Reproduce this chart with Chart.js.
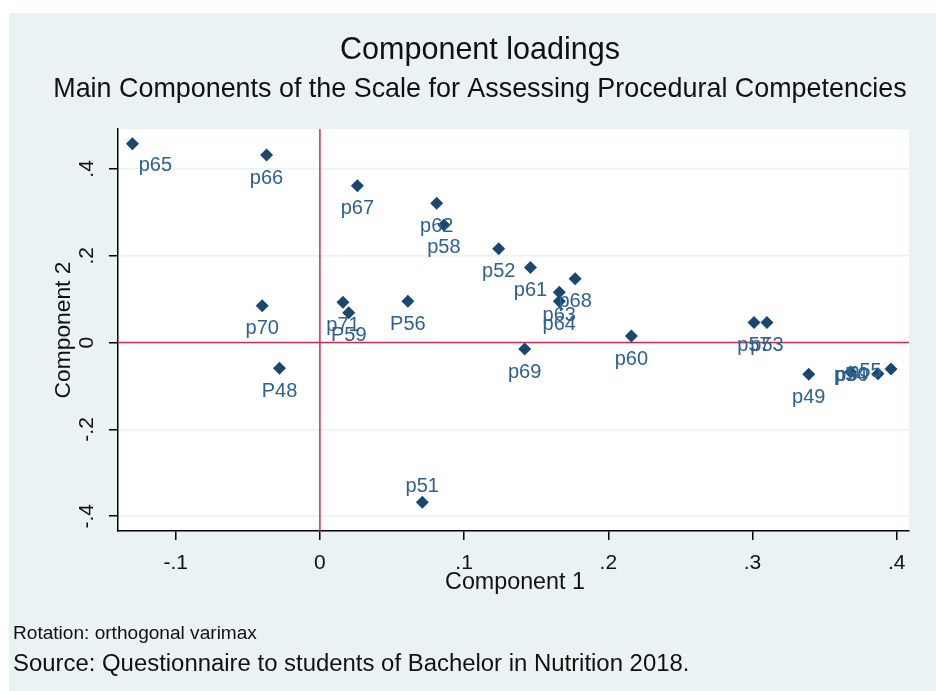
<!DOCTYPE html>
<html>
<head>
<meta charset="utf-8">
<title>Component loadings</title>
<script src="https://cdn.jsdelivr.net/npm/chart.js@4.4.1/dist/chart.umd.min.js"></script>
<style>
  html, body { margin: 0; padding: 0; background: #fff; }
  #wrap { width: 936px; height: 691px; }
</style>
</head>
<body>
<div id="wrap"><canvas id="chart"></canvas></div>
<script>
// loadings
const items = ["p65", "p66", "p67", "p62", "p58", "p52", "p61", "p68", "p63", "p64", "p71", "P59",
  "P56", "p70", "P48", "p51", "p69", "p60", "p57", "p53", "p49", "p54", "p50", "p55"];
const comp1 = [-0.130, -0.037, 0.026, 0.081, 0.086, 0.124, 0.146, 0.177, 0.166, 0.166, 0.016, 0.020,
  0.061, -0.040, -0.028, 0.071, 0.142, 0.216, 0.301, 0.310, 0.339, 0.368, 0.387, 0.396];
const comp2 = [0.458, 0.432, 0.361, 0.321, 0.271, 0.216, 0.173, 0.147, 0.116, 0.095, 0.093, 0.069,
  0.095, 0.085, -0.059, -0.368, -0.015, 0.015, 0.046, 0.046, -0.073, -0.068, -0.072, -0.061];

const xTicks = [-0.1, 0, 0.1, 0.2, 0.3, 0.4];
const xTickLabels = ["-.1", "0", ".1", ".2", ".3", ".4"];
const yTicks = [-0.4, -0.2, 0, 0.2, 0.4];
const yTickLabels = ["-.4", "-.2", "0", ".2", ".4"];

const FONT = '"Liberation Sans", Arial, sans-serif';
const NAVY = "#1a476f";

// marker label placement (clock position), default 6 = below
const labelClock = { p65: 5, p51: 12, p50: 9, p55: 9, p54: 0 };
const clockOffset = { 6: [0, 23], 12: [0, -16], 5: [23, 22], 9: [-26, 2], 0: [0, 3] };

function fitSize(ctx, text, width) {
  ctx.font = "100px " + FONT;
  return 100 * width / ctx.measureText(text).width;
}

function text(ctx, str, x, y, size, align, rot) {
  ctx.save();
  ctx.font = size + "px " + FONT;
  ctx.textAlign = align || "center";
  ctx.textBaseline = "alphabetic";
  ctx.translate(x, y);
  if (rot) ctx.rotate(rot);
  ctx.fillText(str, 0, 0);
  ctx.restore();
}

const backdrop = {
  id: "backdrop",
  beforeDraw(chart) {
    const { ctx, width, height, chartArea: a } = chart;
    ctx.save();
    ctx.fillStyle = "#fff";
    ctx.fillRect(0, 0, width, height);
    ctx.fillStyle = "#eaf2f3";
    ctx.fillRect(9, 13, width - 9, height - 13);
    ctx.fillStyle = "#fff";
    ctx.fillRect(a.left, a.top, a.right - a.left, a.bottom - a.top);
    ctx.restore();
  },
  beforeDatasetsDraw(chart) {
    const { ctx, chartArea: a, scales } = chart;
    const x0 = scales.x.getPixelForValue(0);
    const y0 = scales.y.getPixelForValue(0);
    ctx.save();
    ctx.strokeStyle = "#d02a57";
    ctx.lineWidth = 1.5;
    ctx.beginPath();
    ctx.moveTo(x0, a.top);
    ctx.lineTo(x0, a.bottom);
    ctx.moveTo(a.left, y0);
    ctx.lineTo(a.right, y0);
    ctx.stroke();
    ctx.restore();
  }
};

const labels = {
  id: "labels",
  afterDatasetsDraw(chart) {
    const { ctx } = chart;
    const meta = chart.getDatasetMeta(0);
    ctx.save();
    ctx.font = "20px " + FONT;
    ctx.fillStyle = "#2e6093";
    ctx.textAlign = "center";
    ctx.textBaseline = "middle";
    meta.data.forEach((pt, i) => {
      const off = clockOffset[labelClock[items[i]] ?? 6];
      ctx.fillText(items[i], pt.x + off[0], pt.y + off[1]);
    });
    ctx.restore();
  },
  afterDraw(chart) {
    const { ctx, scales } = chart;
    ctx.save();
    ctx.fillStyle = "#111";
    let s = fitSize(ctx, "Component loadings", 280);
    text(ctx, "Component loadings", 480, 59, s);
    const sub = "Main Components of the Scale for Assessing Procedural Competencies";
    s = fitSize(ctx, sub, 854);
    text(ctx, sub, 480, 97, s);

    xTicks.forEach((v, i) => {
      text(ctx, xTickLabels[i], scales.x.getPixelForValue(v), 569, 21);
    });
    yTicks.forEach((v, i) => {
      text(ctx, yTickLabels[i], 93, scales.y.getPixelForValue(v), 21, "center", -Math.PI / 2);
    });

    s = fitSize(ctx, "Component 1", 140);
    text(ctx, "Component 1", 515, 589, s);
    s = fitSize(ctx, "Component 2", 137);
    text(ctx, "Component 2", 70, 330, s, "center", -Math.PI / 2);

    const note = "Rotation: orthogonal varimax";
    s = fitSize(ctx, note, 244);
    text(ctx, note, 13, 639, s, "left");
    const src = "Source: Questionnaire to students of Bachelor in Nutrition 2018.";
    s = fitSize(ctx, src, 677);
    text(ctx, src, 13, 671, s, "left");
    ctx.restore();
  }
};

new Chart(document.getElementById("chart"), {
  type: "scatter",
  data: {
    datasets: [{
      data: items.map((n, i) => ({ x: comp1[i], y: comp2[i] })),
      pointStyle: "rectRot",
      pointRadius: 6.5,
      pointHoverRadius: 6.5,
      backgroundColor: NAVY,
      borderColor: NAVY,
      borderWidth: 0
    }]
  },
  options: {
    responsive: true,
    maintainAspectRatio: false,
    animation: false,
    layout: { padding: { top: 129, right: 27, left: 0, bottom: 0 } },
    plugins: { legend: { display: false }, tooltip: { enabled: false } },
    scales: {
      x: {
        type: "linear",
        min: -0.140,
        max: 0.4085,
        afterBuildTicks: (axis) => { axis.ticks = xTicks.map(v => ({ value: v })); },
        afterFit: (axis) => { axis.height = 160; },
        ticks: { display: false },
        grid: { drawOnChartArea: false, color: "#000", tickColor: "#000", tickLength: 9, lineWidth: 1.5 },
        border: { color: "#000", width: 1.5 }
      },
      y: {
        type: "linear",
        min: -0.434,
        max: 0.492,
        afterBuildTicks: (axis) => { axis.ticks = yTicks.map(v => ({ value: v })); },
        afterFit: (axis) => { axis.width = 118; },
        ticks: { display: false },
        grid: { color: "#eaf2f3", tickColor: "#000", tickLength: 9, lineWidth: 1.5 },
        border: { color: "#000", width: 1.5 }
      }
    }
  },
  plugins: [backdrop, labels]
});
</script>
</body>
</html>
